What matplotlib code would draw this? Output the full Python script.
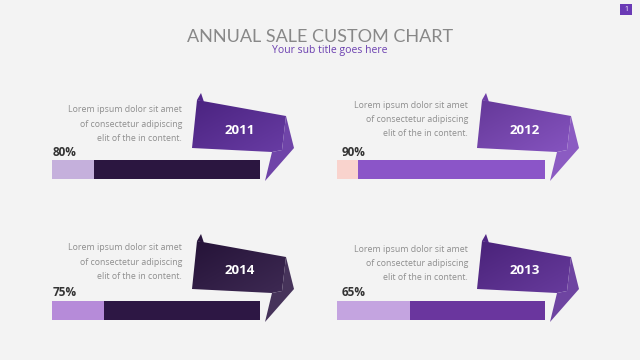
import matplotlib
matplotlib.use("Agg")
import matplotlib.pyplot as plt
from matplotlib.patches import Polygon
import numpy as np

# data
years = ["2011", "2012", "2014", "2013"]
percents = [80, 90, 75, 65]
bar_colors = ["#2b1640", "#8b55c8", "#2d1744", "#6a369e"]
rest_colors = ["#c5b0dc", "#f9d3cd", "#b68bd9", "#c4a4e0"]
flag_colors = ["#5b2b9c", "#7b45ba", "#2d1744", "#5a2a94"]
lorem = ["Lorem ipsum dolor sit amet", "of consectetur adipiscing", "elit of the in content."]

# panel anchors (bar left x, bar top y) in pixels
anchors = [(52, 160), (337, 160), (52, 301), (337, 301)]
bar_w, bar_h = 208, 19

plt.rcParams["font.family"] = ["Open Sans", "DejaVu Sans"]
fig = plt.figure(figsize=(6.4, 3.6), dpi=100)
fig.patch.set_facecolor("#f3f3f3")
ax = fig.add_axes([0, 0, 1, 1])
ax.set_xlim(0, 640)
ax.set_ylim(360, 0)
ax.axis("off")


def shade(c, f):
    c = np.array(matplotlib.colors.to_rgb(c))
    if f < 1:
        return tuple(c * f)
    return tuple(c + (1 - c) * (f - 1))


def grad_fill(poly, color):
    xs, ys = poly[:, 0], poly[:, 1]
    g = np.linspace(0, 1, 64)
    gx, gy = np.meshgrid(g, g)
    t = (gx + gy) / 2
    c0 = np.array(shade(color, 0.82))
    c1 = np.array(shade(color, 1.08))
    img = c0 + (c1 - c0) * t[..., None]
    im = ax.imshow(img, extent=[xs.min(), xs.max(), ys.max(), ys.min()],
                   aspect="auto", zorder=2, interpolation="bilinear")
    p = Polygon(poly, closed=True, facecolor="none", edgecolor="none")
    ax.add_patch(p)
    im.set_clip_path(p)


for i, (x0, y0) in enumerate(anchors):
    rx = x0 + bar_w
    fc = flag_colors[i]
    # flag body
    body = np.array([(-63, -60), (26, -44), (22, -10), (12, -8), (-68, -12)], float)
    body[:, 0] += rx
    body[:, 1] += y0
    grad_fill(body, fc)
    # right fold / tail
    tail = np.array([(26, -44), (34, -12), (5, 21), (12, -8), (22, -10)], float)
    tail[:, 0] += rx
    tail[:, 1] += y0
    ax.add_patch(Polygon(tail, closed=True, facecolor=shade(fc, 1.12), edgecolor="none", zorder=3))
    # small left fold
    fold = np.array([(-63, -60), (-59, -67), (-56, -58)], float)
    fold[:, 0] += rx
    fold[:, 1] += y0
    ax.add_patch(Polygon(fold, closed=True, facecolor=shade(fc, 0.9), edgecolor="none", zorder=3))
    ax.text(rx - 20, y0 - 30, years[i], color="white", fontsize=9.5,
            fontweight="bold", ha="center", va="center", zorder=4)

    # lorem text
    tx = x0 + 130 if i % 2 == 0 else x0 + 131
    ty = y0 - 50 if i == 0 else y0 - 55 if i == 1 else y0 - 53 if i == 2 else y0 - 52
    for k, line in enumerate(lorem):
        ax.text(tx, ty + k * 14.2, line, color="#8e8e8e", fontsize=6.3,
                ha="right", va="center")

    # percent label
    ax.text(x0 + (1 if i % 2 == 0 else 5), y0 - 8, f"{percents[i]}%", color="#333333",
            fontsize=8.5, fontweight="bold", ha="left", va="center")

    # bar
    bax = fig.add_axes([x0 / 640, 1 - (y0 + bar_h) / 360, bar_w / 640, bar_h / 360])
    rest = 100 - percents[i]
    bax.barh(0, rest, left=0, height=1, color=rest_colors[i])
    bax.barh(0, percents[i], left=rest, height=1, color=bar_colors[i])
    bax.set_xlim(0, 100)
    bax.set_ylim(-0.5, 0.5)
    bax.axis("off")

# titles
ax.text(320, 37, "ANNUAL SALE CUSTOM CHART", color="#888888", fontsize=13,
        family=["Lato", "DejaVu Sans"], ha="center", va="center")
ax.text(330, 50, "Your sub title goes here", color="#6b3fb0", fontsize=7.5,
        ha="center", va="center")

# page number
ax.add_patch(plt.Rectangle((620, 4), 12, 11, facecolor="#6a3ab5", edgecolor="none"))
ax.text(626, 9.5, "1", color="white", fontsize=5, ha="center", va="center")

fig.savefig("out.png", dpi=100, facecolor=fig.get_facecolor())
